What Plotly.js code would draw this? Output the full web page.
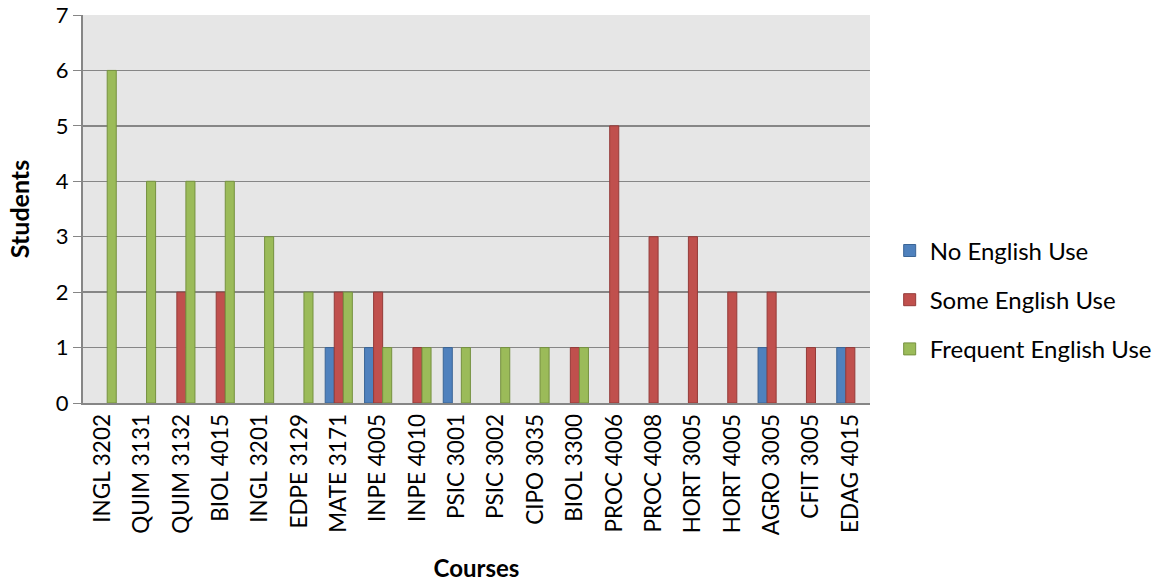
<!DOCTYPE html>
<html><head><meta charset="utf-8">
<script src="https://cdn.plot.ly/plotly-3.0.1.min.js"></script>
<style>body{margin:0;background:#fff}#chart{width:1173px;height:582px}</style>
</head><body><div id="chart"></div>
<script>
const courses = ["INGL 3202","QUIM 3131","QUIM 3132","BIOL 4015","INGL 3201","EDPE 3129","MATE 3171","INPE 4005","INPE 4010","PSIC 3001","PSIC 3002","CIPO 3035","BIOL 3300","PROC 4006","PROC 4008","HORT 3005","HORT 4005","AGRO 3005","CFIT 3005","EDAG 4015"];
const noEnglish =       [0,0,0,0,0,0,1,1,0,1,0,0,0,0,0,0,0,1,0,1];
const someEnglish =     [0,0,2,2,0,0,2,2,1,0,0,0,1,5,3,3,2,2,1,1];
const frequentEnglish = [6,4,4,4,3,2,2,1,1,1,1,1,1,0,0,0,0,0,0,0];
const seriesNames = ["No English Use","Some English Use","Frequent English Use"];
const fills = ["#4F81BD","#C0504D","#9BBB59"];
const borders = ["#3A6596","#943B39","#75913F"];
const vals = [noEnglish, someEnglish, frequentEnglish];
const FONT = "Lato, 'Open Sans', sans-serif";
const traces = vals.map((v,i)=>({
  type:"bar", x:courses, y:v.map(d=>d===0?null:d), name:seriesNames[i], legendgroup:"g"+i,
  marker:{color:fills[i], line:{color:borders[i], width:1}}
}));
const layout = {
  width:1173, height:582,
  margin:{l:83, r:303, t:15, b:179},
  paper_bgcolor:"#ffffff", plot_bgcolor:"#e6e6e6",
  barmode:"group", bargap:0.31, bargroupgap:0,
  font:{family:FONT, size:22, color:"#000"},
  xaxis:{
    type:"category", tickangle:-90, showgrid:false, automargin:false,
    showline:true, linecolor:"#868686", linewidth:2, ticks:"",
    tickfont:{family:FONT, size:22.5},
    title:{text:"<b>Courses</b>", font:{family:FONT, size:24}, standoff:29}
  },
  yaxis:{
    range:[0,7], dtick:1, showgrid:true, gridcolor:"#868686", gridwidth:1.5, automargin:false,
    showline:true, linecolor:"#868686", linewidth:2, ticks:"outside", ticklen:8, tickcolor:"#868686",
    zeroline:false, tickfont:{family:FONT, size:22},
    title:{text:"<b>Students</b>", font:{family:FONT, size:25}, standoff:19}
  },
  showlegend:true,
  legend:{x:1.025, y:0.45, xanchor:"left", yanchor:"top", traceorder:"grouped", tracegroupgap:15,
    font:{family:FONT, size:24}, itemwidth:30, bgcolor:"rgba(0,0,0,0)"}
};
Plotly.newPlot("chart", traces, layout, {displayModeBar:false, staticPlot:true});
</script></body></html>
